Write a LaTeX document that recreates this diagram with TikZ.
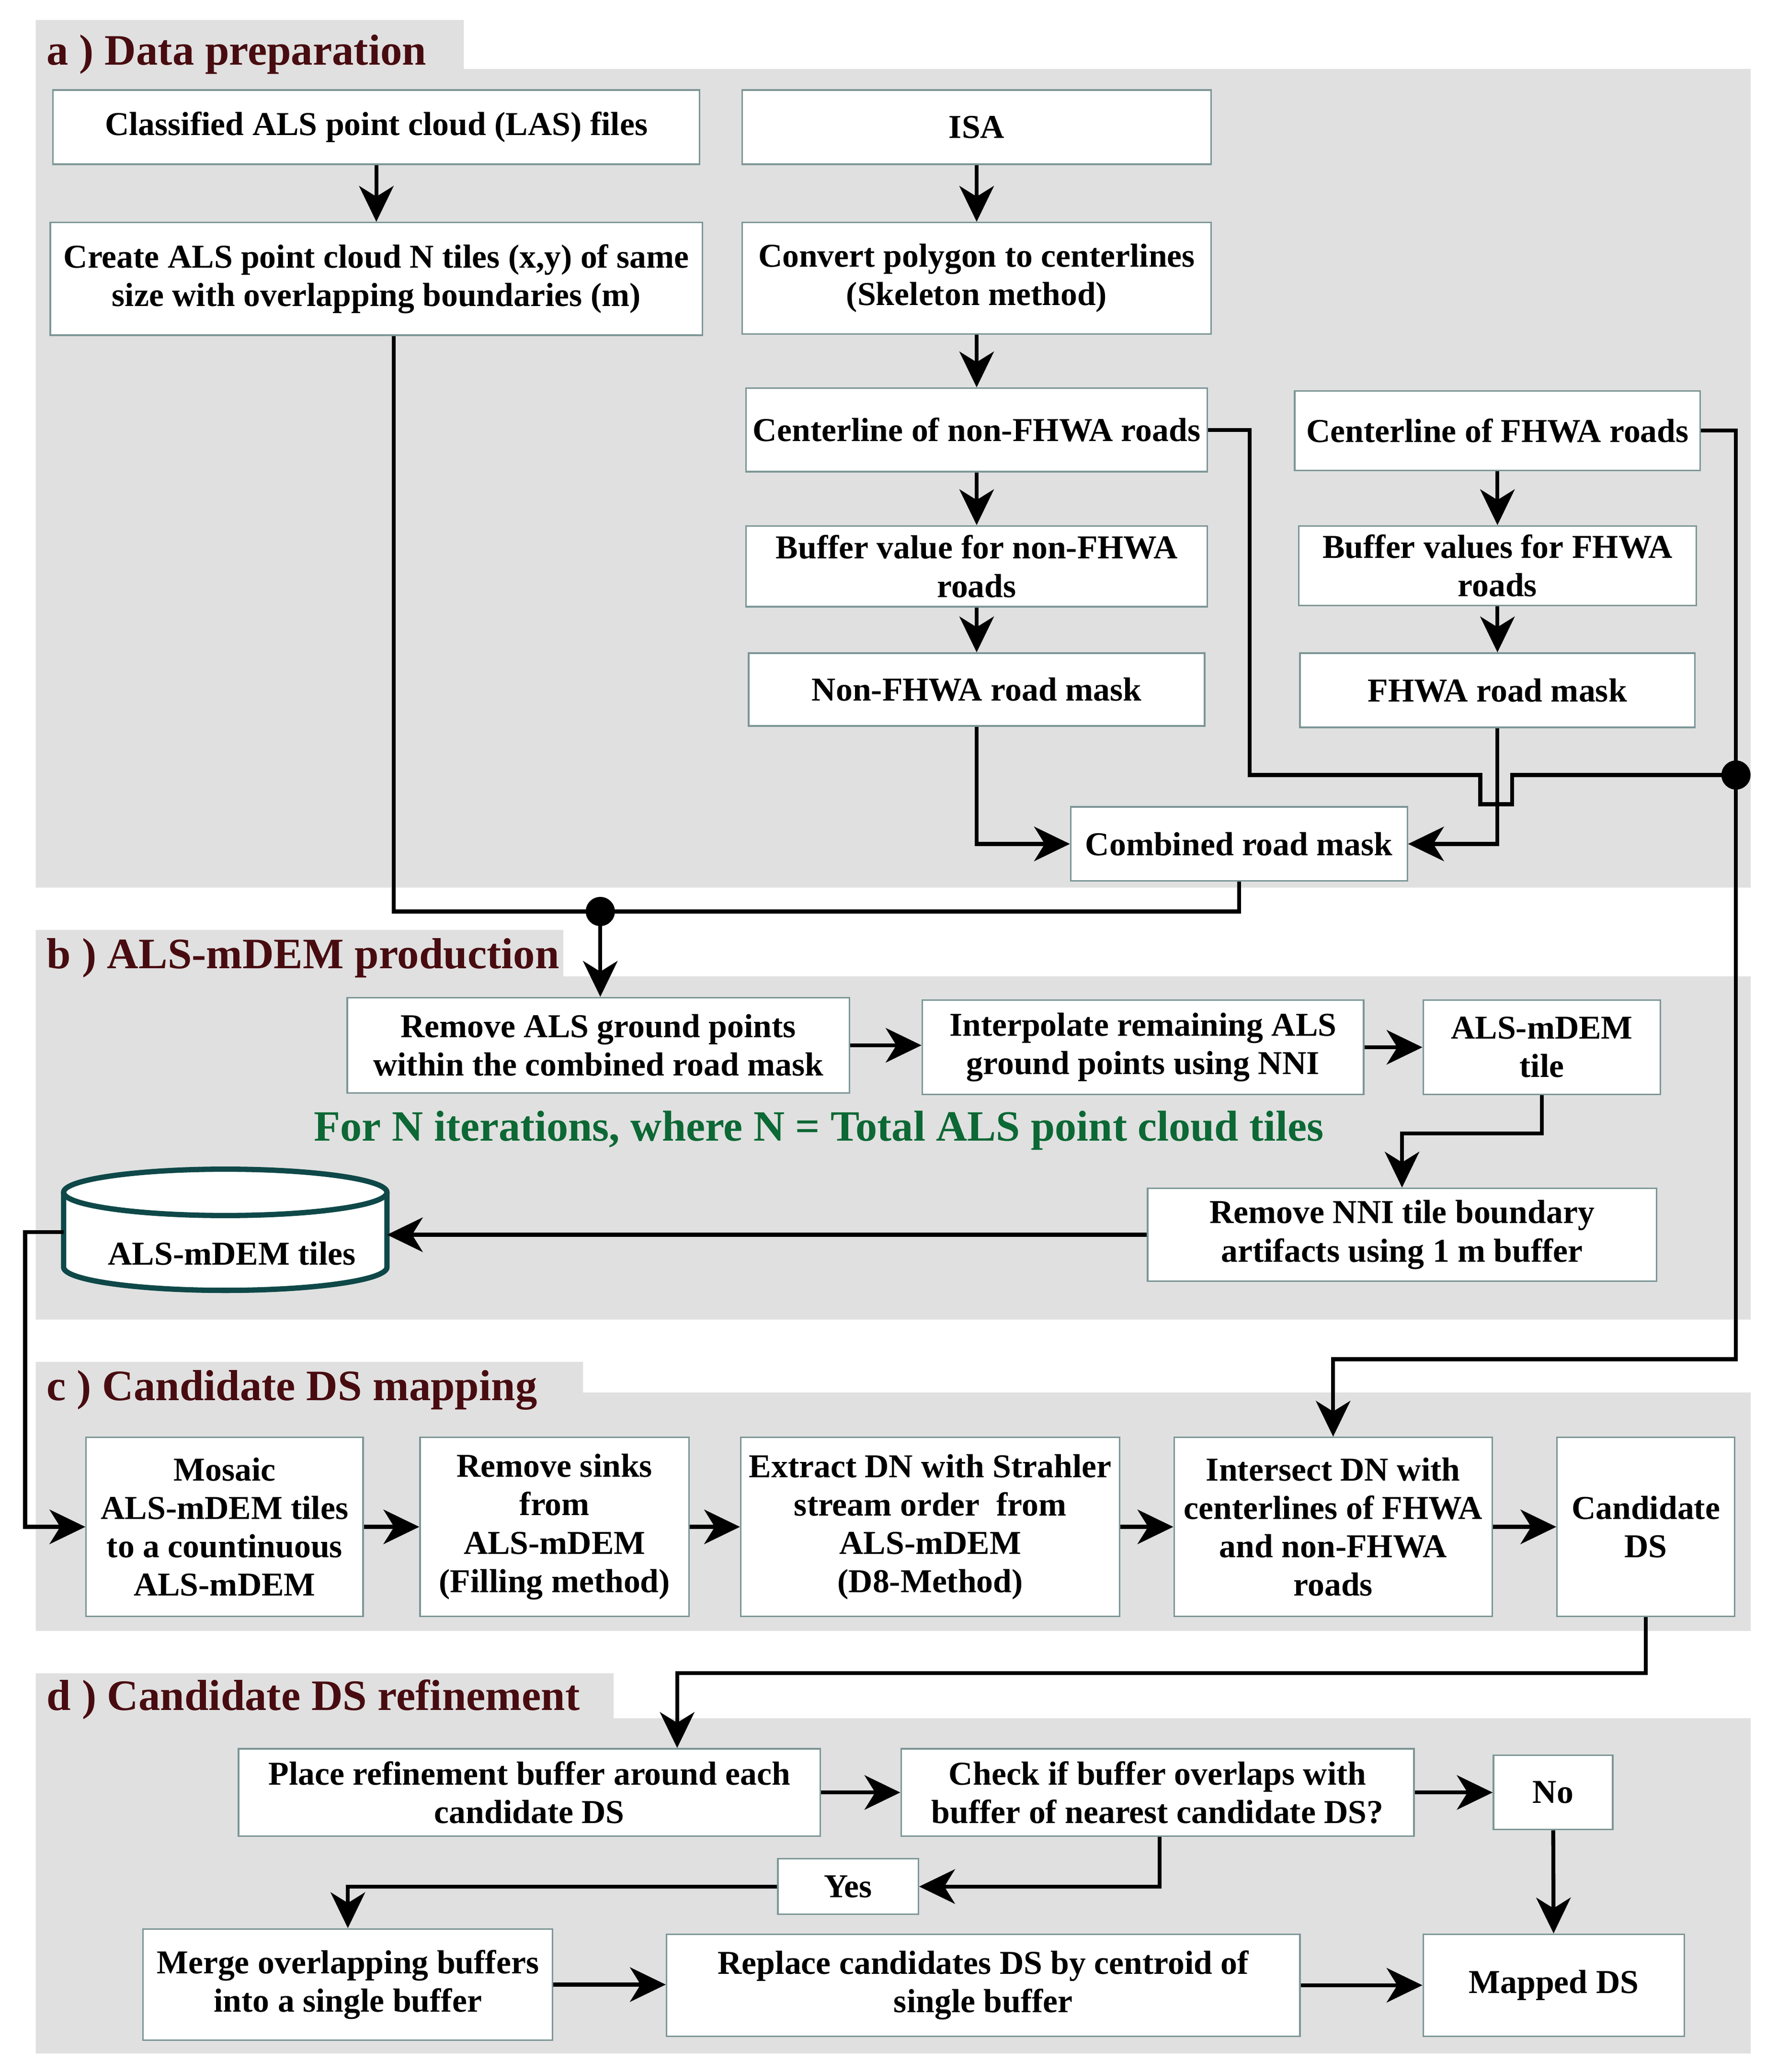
\documentclass[tikz,border=0pt]{standalone}
\usepackage{fontspec}
\setmainfont{Liberation Serif}
\usetikzlibrary{arrows.meta,calc}
\definecolor{panelgray}{RGB}{224,224,224}
\definecolor{titlecol}{RGB}{72,12,16}
\definecolor{greencol}{RGB}{12,104,52}
\definecolor{boxborder}{RGB}{125,150,150}
\definecolor{cylcol}{RGB}{14,72,72}
\begin{document}
\begin{tikzpicture}[x=0.5pt,y=-0.5pt,
  panel/.style={fill=panelgray},
  ttl/.style={anchor=base west,text=titlecol,font=\fontsize{16.4}{19}\selectfont\bfseries,inner sep=0},
  box/.style={draw=boxborder,fill=white,line width=0.6pt,align=center,inner sep=0,
              font=\fontsize{12.6}{14.5}\selectfont\bfseries},
  ln/.style={line width=1.5pt},
  arr/.style={line width=1.5pt,-{Stealth[length=13.5pt,width=13pt,inset=4pt]}},
  dotst/.style={circle,fill=black,inner sep=0,minimum size=11pt}]
\useasboundingbox (0,0) rectangle (1350,1564);

% panels
\fill[panel] (27,15) -- (350,15) -- (350,52) -- (1321,52) -- (1321,670) -- (27,670) -- cycle;
\fill[panel] (27,702) -- (425,702) -- (425,737) -- (1321,737) -- (1321,996) -- (27,996) -- cycle;
\fill[panel] (27,1028) -- (440,1028) -- (440,1051) -- (1321,1051) -- (1321,1231) -- (27,1231) -- cycle;
\fill[panel] (27,1263) -- (463,1263) -- (463,1297) -- (1321,1297) -- (1321,1550) -- (27,1550) -- cycle;

% titles
\node[ttl] (ta) at (35,49) {a ) Data preparation};
\node[ttl] (tb) at (35,731) {b ) ALS-mDEM production};
\node[ttl] (tc) at (35,1057) {c ) Candidate DS mapping};
\node[ttl] (td) at (35,1291) {d ) Candidate DS refinement};

% panel a boxes
\node[box,minimum width=244pt,minimum height=28pt] (cls) at (284,96) {Classified ALS point cloud (LAS) files};
\node[box,minimum width=177pt,minimum height=28pt] (isa) at (737,96) {ISA};
\node[box,minimum width=246pt,minimum height=42.5pt] (tiles) at (284,210.5) {Create ALS point cloud N tiles (x,y) of same\\size with overlapping boundaries (m)};
\node[box,minimum width=177pt,minimum height=42pt] (conv) at (737,210) {Convert polygon to centerlines\\(Skeleton method)};
\node[box,minimum width=174pt,minimum height=31.5pt] (cnf) at (737,324.5) {Centerline of non-FHWA roads};
\node[box,minimum width=153pt,minimum height=30pt] (cf) at (1130,325) {Centerline of FHWA roads};
\node[box,minimum width=174pt,minimum height=30.5pt] (bnf) at (737,427.5) {Buffer value for non-FHWA\\roads};
\node[box,minimum width=150pt,minimum height=30pt] (bf) at (1130,427) {Buffer values for FHWA\\roads};
\node[box,minimum width=172pt,minimum height=27.5pt] (mnf) at (737,520.5) {Non-FHWA road mask};
\node[box,minimum width=149pt,minimum height=28pt] (mf) at (1130,521) {FHWA road mask};
\node[box,minimum width=127pt,minimum height=28pt] (comb) at (935,637) {Combined road mask};

% panel b boxes
\node[box,minimum width=189.5pt,minimum height=36pt] (rem) at (451.5,789) {Remove ALS ground points\\within the combined road mask};
\node[box,minimum width=166.5pt,minimum height=35.5pt] (interp) at (862.5,790.5) {Interpolate remaining ALS\\ground points using NNI};
\node[box,minimum width=89.5pt,minimum height=35.5pt] (tile) at (1163.5,790.5) {ALS-mDEM\\tile};
\node[box,minimum width=192pt,minimum height=35pt] (nni) at (1058,932) {Remove NNI tile boundary\\artifacts using 1 m buffer};
\node[text=greencol,font=\fontsize{16.3}{19}\selectfont\bfseries,anchor=base,inner sep=0] (iter) at (618,861) {For N iterations, where N = Total ALS point cloud tiles};

% cylinder
\fill[white] (48,900) -- (48,956.5) arc[start angle=180,end angle=360,x radius=61pt,y radius=8.75pt] -- (292,900) arc[start angle=0,end angle=180,x radius=61pt,y radius=8.75pt] -- cycle;
\draw[cylcol,line width=2pt] (48,900) -- (48,956.5) arc[start angle=180,end angle=360,x radius=61pt,y radius=8.75pt] -- (292,900);
\draw[cylcol,line width=2pt] (170,900) ellipse[x radius=61pt,y radius=8.75pt];
\node[font=\fontsize{12.6}{14.5}\selectfont\bfseries,inner sep=0] (cyl) at (175,946) {ALS-mDEM tiles};
\coordinate (cylR) at (292,932);
\coordinate (cylL) at (48,930);

% panel c boxes
\node[box,minimum width=104.5pt,minimum height=67.5pt] (mos) at (169.5,1152.5) {Mosaic\\ALS-mDEM tiles\\to a countinuous\\ALS-mDEM};
\node[box,minimum width=101.5pt,minimum height=67.5pt] (sink) at (418.5,1152.5) {Remove sinks\\from\\ALS-mDEM\\(Filling method)};
\node[box,minimum width=143pt,minimum height=67.5pt] (extr) at (702,1152.5) {Extract DN with Strahler\\stream order\ \ from\\ALS-mDEM\\(D8-Method)};
\node[box,minimum width=120pt,minimum height=67.5pt] (inter) at (1006,1152.5) {Intersect DN with\\centerlines of FHWA\\and non-FHWA\\roads};
\node[box,minimum width=67pt,minimum height=67.5pt] (cand) at (1242,1152.5) {Candidate\\DS};

% panel d boxes
\node[box,minimum width=219.5pt,minimum height=33pt] (place) at (399.5,1353) {Place refinement buffer around each\\candidate DS};
\node[box,minimum width=193.5pt,minimum height=33pt] (check) at (873.5,1353) {Check if buffer overlaps with\\buffer of nearest candidate DS?};
\node[box,minimum width=45pt,minimum height=28pt] (no) at (1172,1353) {No};
\node[box,minimum width=53pt,minimum height=21pt] (yes) at (640,1424) {Yes};
\node[box,minimum width=154.5pt,minimum height=42pt] (merge) at (262.5,1498) {Merge overlapping buffers\\into a single buffer};
\node[box,minimum width=239pt,minimum height=38.5pt] (repl) at (742,1498.5) {Replace candidates DS by centroid of\\single buffer};
\node[box,minimum width=98.5pt,minimum height=38.5pt] (mapped) at (1172.5,1498.5) {Mapped DS};

% junction dots
\node[dotst] (dotL) at (453,688) {};
\node[dotst] (dotR) at (1310,585) {};
\coordinate (jL) at (297,688);
\coordinate (jD) at (511,1263);

% connectors panel a
\draw[arr] (cls) -- (tiles);
\draw[arr] (isa) -- (conv);
\draw[arr] (conv) -- (cnf);
\draw[arr] (cnf) -- (bnf);
\draw[arr] (bnf) -- (mnf);
\draw[arr] (cf) -- (bf);
\draw[arr] (bf) -- (mf);
\draw[arr] (mnf.south) |- (comb.west);
\draw[arr] (mf.south) |- (comb.east);
\draw[ln] (cnf.east) -| (943,585) -- (1117,585) -- (1117,607) -- (1141,607) -- (1141,585) -- (dotR.center);
\draw[arr] (cf.east) -| (dotR.center) -- (1310,1026) -| (inter.north);
\draw[ln] (jL |- tiles.south) -- (jL) -- (dotL.center) -| (comb.south);

% connectors panel b
\draw[arr] (dotL.center) -- (dotL.center |- rem.north);
\draw[arr] (rem.east) -- (interp.west |- rem.east);
\draw[arr] (interp.east) -- (tile.west);
\draw[arr] (tile.south) -- ++(0,29) -| (nni.north);
\draw[arr] (nni.west) -- (cylR);

% connectors panel c
\draw[arr] (cylL) -- (19,930) |- (mos.west);
\draw[arr] (mos) -- (sink);
\draw[arr] (sink) -- (extr);
\draw[arr] (extr) -- (inter);
\draw[arr] (inter) -- (cand);
\draw[arr] (cand.south) |- (jD) -- (jD |- place.north);

% connectors panel d
\draw[arr] (place) -- (check);
\draw[arr] (check) -- (no);
\draw[arr] (no) -- (mapped);
\draw[arr] (check.south -| 875,0) |- (yes.east);
\draw[arr] (yes.west) -| (merge.north);
\draw[arr] (merge.east) -- (repl.west |- merge.east);
\draw[arr] (repl) -- (mapped);
\end{tikzpicture}
\end{document}
